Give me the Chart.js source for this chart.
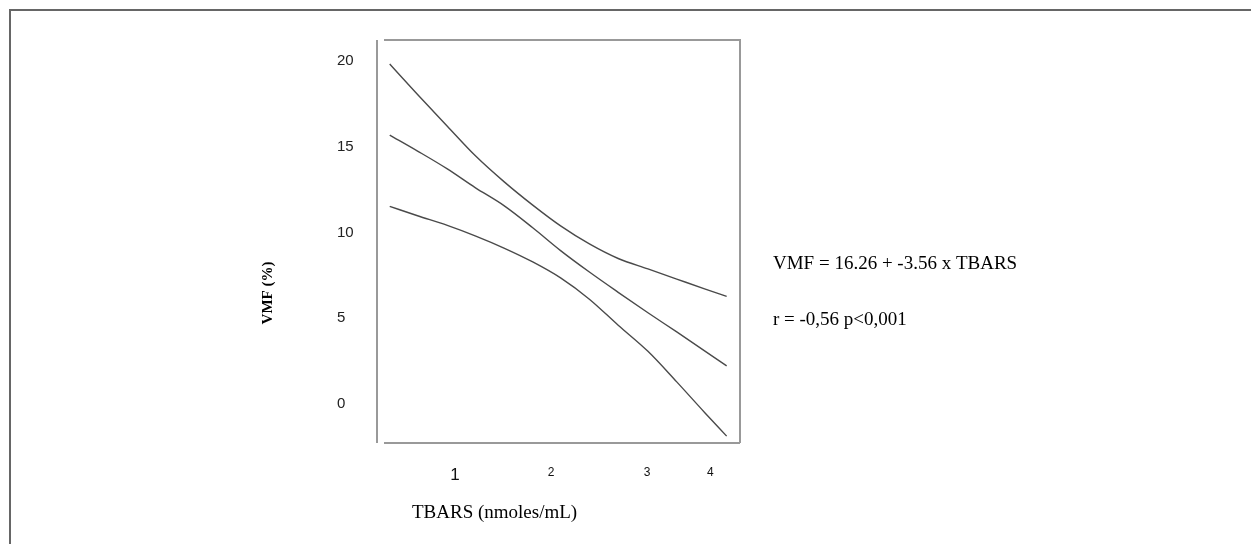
<!DOCTYPE html>
<html>
<head>
<meta charset="utf-8">
<script src="https://cdn.jsdelivr.net/npm/chart.js@4"></script>
<style>
  body { margin: 0; background: #fff; }
  #wrap { position: relative; width: 1251px; height: 544px; overflow: hidden; }
  #frame { position: absolute; left: 9px; top: 9px; right: -10px; bottom: -10px;
           border-top: 2px solid #666; border-left: 2px solid #666; }
  #myChart { position: absolute; left: 0; top: 0; }
</style>
</head>
<body>
<div id="wrap">
  <div id="frame"></div>
  <canvas id="myChart" width="1251" height="544"></canvas>
</div>
<script>
// TBARS values along the curves (nmoles/mL)
var tbars = [0.32, 0.61, 0.92, 1.21, 1.51, 1.81, 2.10, 2.40, 2.70, 3.01, 3.31, 3.60, 3.83];
// upper confidence band, fitted line, lower confidence band (VMF %)
var upperBand = [19.81, 18.04, 16.19, 14.48, 12.96, 11.59, 10.38, 9.33, 8.48, 7.87, 7.28, 6.71, 6.27];
var fitLine   = [15.67, 14.74, 13.70, 12.61, 11.56, 10.27, 8.94, 7.69, 6.51, 5.32, 4.20, 3.10, 2.22];
var lowerBand = [11.52, 10.97, 10.41, 9.80, 9.09, 8.28, 7.35, 6.11, 4.59, 3.07, 1.29, -0.49, -1.87];

var yTicks = [0, 5, 10, 15, 20];
var xTickValues = [1, 2, 3, 3.66];
var xTickLabels = ['1', '2', '3', '4'];

var yTitle = 'VMF (%)';
var xTitle = 'TBARS (nmoles/mL)';
var equation = 'VMF = 16.26 + -3.56 x TBARS';
var stats = 'r = -0,56 p<0,001';

function pts(ys) {
    return ys.map(function (v, i) { return { x: tbars[i], y: v }; });
}

// SPSS style box and extra texts
var extras = {
    id: 'extras',
    afterDraw: function (chart) {
        var c = chart.ctx, a = chart.chartArea;
        c.save();
        c.strokeStyle = '#999';
        c.lineWidth = 2;
        c.beginPath();
        c.moveTo(a.left, a.top); c.lineTo(a.left, a.bottom);
        c.moveTo(a.left + 7, a.top); c.lineTo(a.right + 1, a.top);
        c.moveTo(a.right, a.top); c.lineTo(a.right, a.bottom);
        c.moveTo(a.left + 7, a.bottom); c.lineTo(a.right, a.bottom);
        c.stroke();

        c.fillStyle = '#000';
        c.font = 'bold 15px "Liberation Serif"';
        c.textAlign = 'center';
        c.textBaseline = 'middle';
        c.translate(268, 293);
        c.rotate(-Math.PI / 2);
        c.fillText(yTitle, 0, 0);
        c.restore();

        c.save();
        c.fillStyle = '#000';
        c.textAlign = 'left';
        c.textBaseline = 'alphabetic';
        c.font = '19px "Liberation Serif"';
        c.fillText(xTitle, 412, 518);
        c.fillText(equation, 773, 269);
        c.fillText(stats, 773, 325);
        c.restore();
    }
};

var lineStyle = {
    borderColor: '#4a4a4a',
    borderWidth: 1.4,
    pointRadius: 0,
    fill: false,
    cubicInterpolationMode: 'monotone'
};

var ctx = document.getElementById('myChart');
var chart = new Chart(ctx, {
    type: 'line',
    data: {
        datasets: [
            Object.assign({ label: 'upper', data: pts(upperBand) }, lineStyle),
            Object.assign({ label: 'fit', data: pts(fitLine) }, lineStyle),
            Object.assign({ label: 'lower', data: pts(lowerBand) }, lineStyle)
        ]
    },
    options: {
        responsive: false,
        animation: false,
        layout: { padding: { left: 337, top: 40, right: 511, bottom: 0 } },
        plugins: { legend: { display: false }, tooltip: { enabled: false } },
        scales: {
            x: {
                type: 'linear',
                min: 0.1875,
                max: 3.969,
                grid: { display: false, drawTicks: false },
                border: { display: false },
                afterBuildTicks: function (s) {
                    s.ticks = xTickValues.map(function (v) { return { value: v }; });
                },
                afterFit: function (s) { s.height = 101; },
                ticks: {
                    padding: 22,
                    color: '#111',
                    maxRotation: 0,
                    autoSkip: false,
                    font: function (c) {
                        return c.index === 0 ? { family: 'Liberation Sans', size: 17 } : { family: 'Liberation Sans', size: 12 };
                    },
                    callback: function (v, i) { return xTickLabels[i]; }
                }
            },
            y: {
                type: 'linear',
                min: -2.27,
                max: 21.21,
                grid: { display: false, drawTicks: false },
                border: { display: false },
                afterBuildTicks: function (s) {
                    s.ticks = yTicks.map(function (v) { return { value: v }; });
                },
                afterFit: function (s) { s.width = 40; },
                ticks: {
                    crossAlign: 'far',
                    color: '#222',
                    font: { family: 'Liberation Sans', size: 15 }
                }
            }
        }
    },
    plugins: [extras]
});
</script>
</body>
</html>
